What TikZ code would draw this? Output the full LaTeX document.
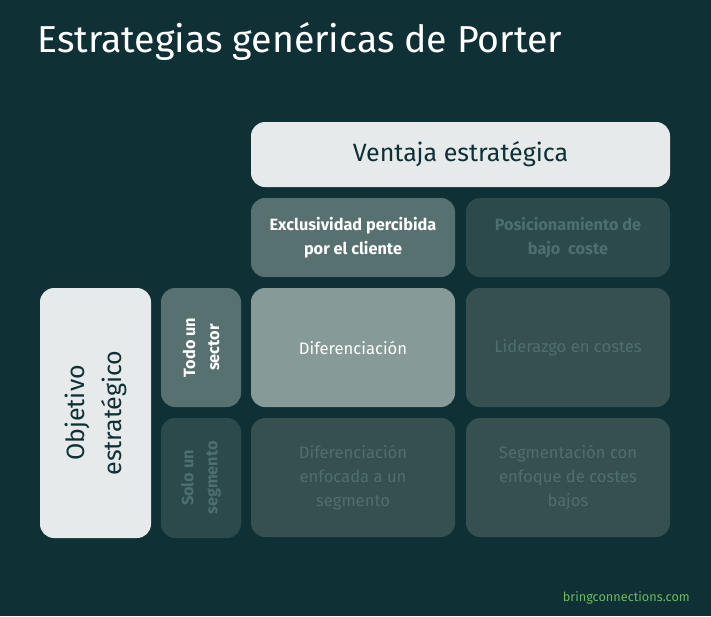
\documentclass[tikz,border=0pt]{standalone}
\usepackage{fontspec}
\setmainfont{Fira Sans}
\newfontfamily\titlefont{Fira Sans}
\definecolor{bg}{HTML}{0F3035}
\definecolor{light}{HTML}{E6EAEB}
\definecolor{darktext}{HTML}{0F3035}
\definecolor{midbox}{HTML}{577070}
\definecolor{hibox}{HTML}{869A98}
\definecolor{dimbox}{HTML}{2C4A4C}
\definecolor{cellbox}{HTML}{36504F}
\definecolor{dimtext}{HTML}{4F6E6E}
\definecolor{webgreen}{HTML}{6CBB5A}
\begin{document}
\begin{tikzpicture}[x=1pt,y=-1pt,
  box/.style={rounded corners=14pt, inner sep=0pt},
  celltext/.style={align=center, font=\fontsize{16.6}{24}\selectfont},
  boldcell/.style={align=center, font=\bfseries\fontsize{16.3}{24}\selectfont},
]
\fill[bg] (0,0) rectangle (711,616);
\useasboundingbox (0,0) rectangle (711,616);
\node[anchor=base west, text=white, inner sep=0pt, font=\titlefont\fontsize{37.5}{40}\selectfont] (title) at (37,52) {Estrategias genéricas de Porter};

\fill[light, box] (251,122) rectangle (670,187);
\node[text=darktext, font=\fontsize{25}{28}\selectfont] (ventaja) at (460.5,154.5) {Ventaja estratégica};

\fill[midbox, box] (251,198) rectangle (455,277);
\node[boldcell, text=white] (excl) at (353,237.5) {Exclusividad percibida\\por el cliente};

\fill[dimbox, box] (466,198) rectangle (670,277);
\node[boldcell, text=dimtext] (posi) at (568,237.5) {Posicionamiento de\\bajo\ \ coste};

\fill[light, box] (40,288) rectangle (151,538);
\node[rotate=90, align=center, text=darktext, font=\fontsize{25}{37}\selectfont] (obj) at (95.5,413) {Objetivo\\estratégico};

\fill[midbox, box] (161,288) rectangle (241,407);
\node[rotate=90, boldcell, text=white] (todo) at (201,347.5) {Todo un\\sector};

\fill[dimbox, box] (161,418) rectangle (241,538);
\node[rotate=90, boldcell, text=dimtext] (solo) at (201,478) {Solo un\\segmento};

\fill[hibox, box] (251,288) rectangle (455,407);
\node[celltext, text=white] (dif) at (353,347.5) {Diferenciación};

\fill[cellbox, box] (466,288) rectangle (670,407);
\node[celltext, text=dimtext] (lid) at (568,347.5) {Liderazgo en costes};

\fill[cellbox, box] (251,418) rectangle (455,537);
\node[celltext, text=dimtext] (difenf) at (353,477.5) {Diferenciación\\enfocada a un\\segmento};

\fill[cellbox, box] (466,418) rectangle (670,537);
\node[celltext, text=dimtext] (seg) at (568,477.5) {Segmentación con\\enfoque de costes\\bajos};

\node[anchor=base east, inner sep=0pt, text=webgreen, font=\fontsize{12.7}{14}\selectfont] (web) at (690,601) {bringconnections.com};
\end{tikzpicture}
\end{document}
